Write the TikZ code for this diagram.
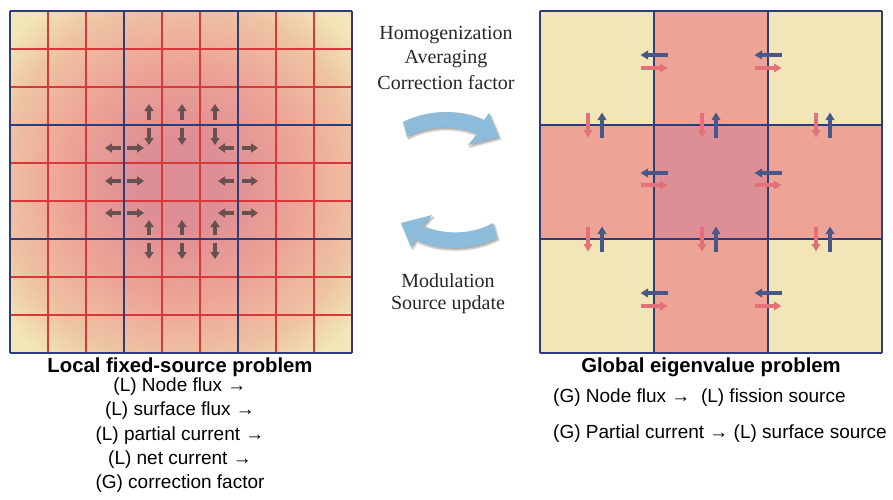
\documentclass[tikz,border=0pt]{standalone}
\usepackage{fontspec}
\newfontfamily\labelsans{Liberation Sans}
\newfontfamily\labelserif{Liberation Serif}
\usetikzlibrary{arrows.meta,shadows.blur}

\definecolor{cellyellow}{HTML}{F2E6B8}
\definecolor{cellpeach}{HTML}{EEC3A3}
\definecolor{cellsalmon}{HTML}{EDA396}
\definecolor{cellmauve}{HTML}{DE8E95}
\definecolor{gridblue}{HTML}{2C3D7C}
\definecolor{gridred}{HTML}{D8383A}
\definecolor{fluxarrow}{HTML}{665050}
\definecolor{curblue}{HTML}{475888}
\definecolor{curred}{HTML}{E2717A}
\definecolor{cyclearrow}{HTML}{8DBBDA}

% flux-like shape of the fine-mesh background (50bp = corner distance)
\pgfdeclareradialshading{fluxshade}{\pgfpoint{0bp}{0bp}}{%
  color(0bp)=(cellmauve); color(9bp)=(cellmauve); color(24bp)=(cellsalmon);
  color(37bp)=(cellpeach); color(46bp)=(cellyellow); color(100bp)=(cellyellow)}

\tikzset{
  fineline/.style={gridred, line width=1.3pt},
  coarseline/.style={gridblue, line width=1.9pt},
  fluxarr/.style={fluxarrow, line width=3.6pt, -{Triangle[width=9pt,length=7pt]}},
  outcur/.style={curblue, line width=3.8pt, -{Triangle[width=8.5pt,length=7.5pt]}},
  incur/.style={curred, line width=3.8pt, -{Triangle[width=8.5pt,length=7.5pt]}},
  cycle arrow/.style={fill=cyclearrow, draw=none,
    blur shadow={shadow xshift=1.5pt, shadow yshift=-2pt, shadow opacity=35, shadow blur steps=6}},
  midtext/.style={font=\labelserif\fontsize{20}{22}\selectfont, inner sep=0pt, text=black!85},
  caption/.style={font=\labelsans\bfseries\fontsize{20.3}{22}\selectfont, inner sep=0pt},
  infoline/.style={font=\labelsans\fontsize{19}{22}\selectfont, inner sep=0pt},
}

\begin{document}
\begin{tikzpicture}[x=1pt, y=-1pt]
\useasboundingbox (0,0) rectangle (893,499);

% ---------- local fine-mesh problem (9 x 9) ----------
\begin{scope}
  \clip (10,11) rectangle (352,353);
  \node[inner sep=0pt, outer sep=0pt, scale=4.822] (fluxbg) at (181,182) {\pgfuseshading{fluxshade}};
\end{scope}
\foreach \i in {1,2,4,5,7,8} {
  \draw[fineline] ({10+\i*38},11) -- ({10+\i*38},353);
  \draw[fineline] (10,{11+\i*38}) -- (352,{11+\i*38});
}
\foreach \i in {0,3,6,9} {
  \draw[coarseline] ({10+\i*38},11) -- ({10+\i*38},353);
  \draw[coarseline] (10,{11+\i*38}) -- (352,{11+\i*38});
}

% interface currents around the central coarse node
\foreach \x in {149,182,215} {
  \draw[fluxarr] (\x,120) -- (\x,104);
  \draw[fluxarr] (\x,128) -- (\x,145);
  \draw[fluxarr] (\x,235) -- (\x,220);
  \draw[fluxarr] (\x,243) -- (\x,259);
}
\foreach \y in {148,181,213} {
  \draw[fluxarr] (121,\y) -- (105,\y);
  \draw[fluxarr] (127,\y) -- (144,\y);
  \draw[fluxarr] (234,\y) -- (218,\y);
  \draw[fluxarr] (242,\y) -- (258,\y);
}

% ---------- global coarse-mesh problem (3 x 3) ----------
\fill[cellyellow] (540,11) rectangle (882,353);
\fill[cellsalmon] (654,11) rectangle (768,353);
\fill[cellsalmon] (540,125) rectangle (882,239);
\fill[cellmauve] (654,125) rectangle (768,239);
\foreach \i in {0,1,2,3} {
  \draw[coarseline] ({540+\i*114},11) -- ({540+\i*114},353);
  \draw[coarseline] (540,{11+\i*114}) -- (882,{11+\i*114});
}

% partial currents on the coarse-node faces
\foreach \x in {654,768} {
  \foreach \yb/\yr in {55/68,173/185,293/306} {
    \draw[outcur] (\x+13.5,\yb) -- (\x-13.5,\yb);
    \draw[incur] (\x-13.5,\yr) -- (\x+13.5,\yr);
  }
}
\foreach \c in {597,711,825} {
  \foreach \y in {125,239} {
    \draw[incur] (\c-9,\y-12.5) -- (\c-9,\y+12.5);
    \draw[outcur] (\c+5,\y+12.5) -- (\c+5,\y-12.5);
  }
}

% ---------- coupling between the two problems ----------
\node[midtext] (homog) at (446,35) {Homogenization};
\node[midtext] (avg) at (446,59) {Averaging};
\node[midtext] (corr) at (446,83) {Correction factor};

\fill[cycle arrow] (403,122) .. controls (428,109) and (462,109) .. (484,120)
  -- (489,113) -- (499,137) -- (468,145) -- (477,134)
  .. controls (456,125) and (428,125) .. (407,137) -- cycle;
\fill[cycle arrow] (497,238) .. controls (472,251) and (438,251) .. (416,240)
  -- (411,247) -- (401,223) -- (432,215) -- (423,226)
  .. controls (444,235) and (472,235) .. (493,223) -- cycle;

\node[midtext] (modul) at (448,281) {Modulation};
\node[midtext] (srcupd) at (448,305) {Source update};

% ---------- captions ----------
\node[caption] (localtitle) at (180,367) {Local fixed-source problem};
\node[infoline] (l1) at (180,387) {(L) Node flux →};
\node[infoline] (l2) at (180,411) {(L) surface flux →};
\node[infoline] (l3) at (180,436) {(L) partial current →};
\node[infoline] (l4) at (180,460) {(L) net current →};
\node[infoline] (l5) at (180,484) {(G) correction factor};

\node[caption] (globaltitle) at (711,367) {Global eigenvalue problem};
\node[infoline, anchor=west] (g1) at (553,398) {(G) Node flux →\ \ (L) fission source};
\node[infoline, anchor=west] (g2) at (553,434) {(G) Partial current → (L) surface source};
\end{tikzpicture}
\end{document}
